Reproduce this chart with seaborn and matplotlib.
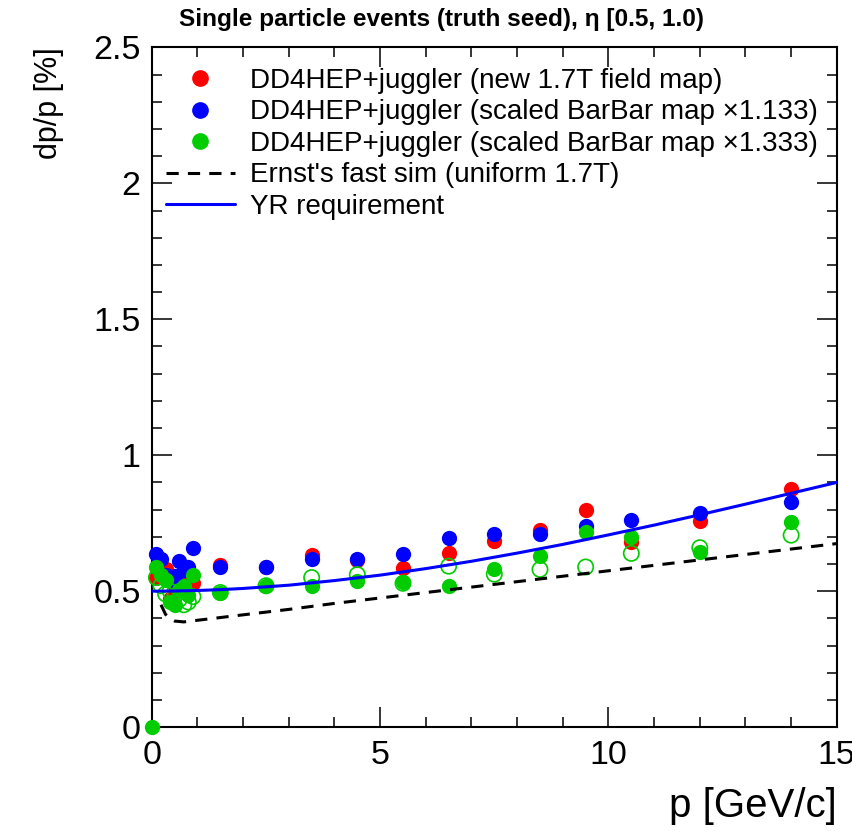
import matplotlib

matplotlib.use("Agg")

import matplotlib.pyplot as plt
import seaborn as sns
from matplotlib.lines import Line2D
from matplotlib.ticker import MultipleLocator

# momentum bins [GeV/c]
P_LOW = [0.1, 0.2, 0.3, 0.4, 0.5, 0.6, 0.7, 0.8, 0.9]
P_HIGH = [1.5, 2.5, 3.5, 4.5, 5.5, 6.5, 7.5, 8.5, 9.5, 10.5, 12.0, 14.0]

# dp/p [%] per field map
NEW_MAP = [0.55, 0.57, 0.58, 0.47, 0.52, 0.54, 0.53, 0.55, 0.53,
           0.595, 0.59, 0.632, 0.615, 0.586, 0.642, 0.684, 0.724, 0.80, 0.681, 0.758, 0.875]
SCALED_1133 = [0.638, 0.62, 0.56, 0.54, 0.555, 0.61, 0.577, 0.59, 0.66,
               0.588, 0.589, 0.618, 0.62, 0.636, 0.694, 0.71, 0.712, 0.739, 0.761, 0.786, 0.828]
SCALED_1333 = [0.589, 0.56, 0.54, 0.46, 0.45, 0.504, 0.52, 0.485, 0.559,
               0.494, 0.518, 0.52, 0.538, 0.534, 0.518, 0.583, 0.63, 0.718, 0.70, 0.645, 0.755]
SCALED_1333_OPEN = [0.55, 0.52, 0.49, 0.50, 0.48, 0.47, 0.45, 0.46, 0.48,
                    0.495, 0.52, 0.55, 0.561, 0.529, 0.592, 0.5625, 0.58, 0.589, 0.639, 0.66, 0.706]
# empty bin drawn at the origin
ZERO_P = [0.0]
ZERO_VAL = [0.0]

# reference curves
FAST_P = [0.2, 0.3, 0.4, 0.5, 0.7, 1.0, 2.0, 3.0, 4.0, 5.0, 6.0, 7.0, 8.0, 9.0, 10.0, 11.0, 12.0, 13.0,
          14.0, 15.0]
FAST_VAL = [0.45, 0.415, 0.398, 0.39, 0.387, 0.393, 0.413, 0.433, 0.455, 0.475, 0.495, 0.515, 0.535,
            0.555, 0.575, 0.595, 0.615, 0.635, 0.655, 0.675]
YR_P = [0.0, 0.5, 1.0, 1.5, 2.0, 3.0, 4.0, 5.0, 6.0, 7.0, 8.0, 9.0, 10.0, 11.0, 12.0, 13.0, 14.0, 15.0]
YR_VAL = [0.50, 0.5006, 0.5025, 0.5056, 0.51, 0.522, 0.539, 0.559, 0.583, 0.61, 0.64, 0.672, 0.707,
          0.743, 0.781, 0.82, 0.86, 0.90]

LABELS = [
    "DD4HEP+juggler (new 1.7T field map)",
    "DD4HEP+juggler (scaled BarBar map \u00d71.133)",
    "DD4HEP+juggler (scaled BarBar map \u00d71.333)",
    "Ernst's fast sim (uniform 1.7T)",
    "YR requirement",
]
RED, BLUE, GREEN = "#ff0000", "#0000ff", "#00cc00"
DASH = (0, (4, 3))

sns.set_theme(style="ticks")
plt.rcParams.update({
    "font.family": ["Liberation Sans", "DejaVu Sans"],
    "axes.linewidth": 1.5,
    "axes.edgecolor": "black",
    "text.color": "black",
    "axes.labelcolor": "black",
    "xtick.color": "black",
    "ytick.color": "black",
})

fig, ax = plt.subplots(figsize=(8.53, 8.31), dpi=100)
fig.subplots_adjust(left=0.178, right=0.981, bottom=0.125, top=0.943)

p_all = P_LOW + P_HIGH
ms = 11.0
for vals, color in [(NEW_MAP, RED), (SCALED_1133, BLUE)]:
    sns.scatterplot(x=p_all, y=vals, color=color, s=ms ** 2, linewidth=0, ax=ax, clip_on=False, zorder=3)
sns.scatterplot(x=p_all, y=SCALED_1333_OPEN, facecolors="none", edgecolor=GREEN, s=ms ** 2,
                linewidth=1.2, marker="o", ax=ax, clip_on=False, zorder=3)
sns.scatterplot(x=p_all + ZERO_P, y=SCALED_1333 + ZERO_VAL, color=GREEN, s=ms ** 2, linewidth=0,
                ax=ax, clip_on=False, zorder=3)

sns.lineplot(x=FAST_P, y=FAST_VAL, color="black", linewidth=2.2, linestyle=DASH, ax=ax, zorder=4)
sns.lineplot(x=YR_P, y=YR_VAL, color=BLUE, linewidth=2.2, ax=ax, zorder=4)

ax.set_xlim(0, 15)
ax.set_ylim(0, 2.5)
ax.xaxis.set_major_locator(MultipleLocator(5))
ax.xaxis.set_minor_locator(MultipleLocator(1))
ax.yaxis.set_major_locator(MultipleLocator(0.5))
ax.yaxis.set_minor_locator(MultipleLocator(0.1))
ax.xaxis.set_major_formatter(plt.FuncFormatter(lambda v, _: f"{v:g}"))
ax.yaxis.set_major_formatter(plt.FuncFormatter(lambda v, _: f"{v:g}"))
ax.tick_params(which="both", direction="in", top=True, right=True, width=1.1, colors="black",
               labelsize=24.5)
ax.tick_params(which="major", length=14.5)
ax.tick_params(which="minor", length=7.2)
ax.tick_params(axis="x", pad=9)
ax.tick_params(axis="y", pad=8)
for side in ax.spines.values():
    side.set_visible(True)

ax.set_xlabel("p [GeV/c]", fontsize=29, loc="right", labelpad=12)
ax.set_ylabel("dp/p [%]", fontsize=22, loc="top", labelpad=21)
fig.text(0.518, 0.976, "Single particle events (truth seed), \u03b7 [0.5, 1.0)", fontsize=17.6,
         fontweight="bold", ha="center", va="center")

handles = [
    Line2D([], [], marker="o", color=RED, linestyle="none", markersize=ms),
    Line2D([], [], marker="o", color=BLUE, linestyle="none", markersize=ms),
    Line2D([], [], marker="o", color=GREEN, linestyle="none", markersize=ms),
    Line2D([], [], color="black", linewidth=2.2, linestyle=DASH),
    Line2D([], [], color=BLUE, linewidth=2.2),
]
ax.legend(handles, LABELS, loc="upper left", bbox_to_anchor=(0.02, 0.97), frameon=False,
          fontsize=20, handlelength=2.5, handletextpad=0.55, labelspacing=0.2, borderpad=0,
          borderaxespad=0, labelcolor="black")

fig.savefig("out.png", dpi=100)
